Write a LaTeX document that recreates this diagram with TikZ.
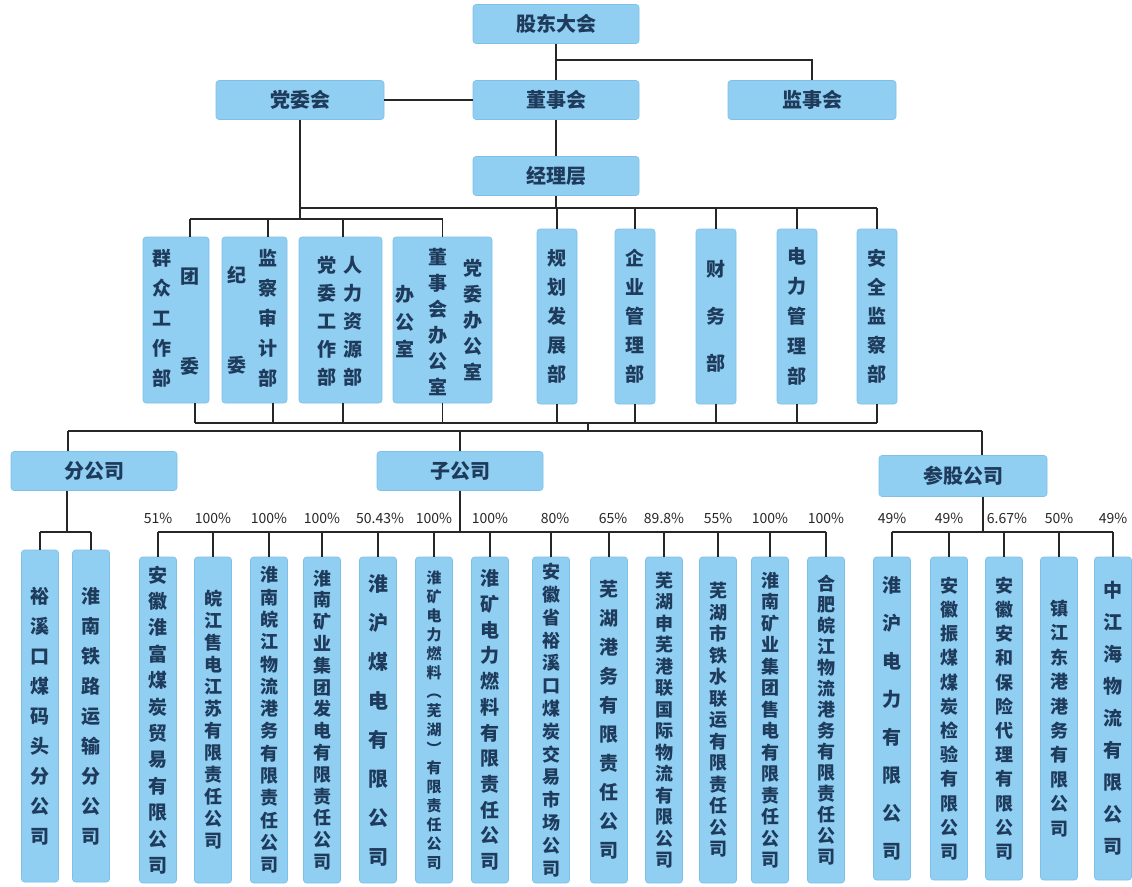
\documentclass[tikz,border=0pt]{standalone}
\usepackage{fontspec}
\newfontfamily\cjk{Noto Sans CJK SC}
\usetikzlibrary{calc}
\definecolor{boxblue}{HTML}{90CFF2}
\definecolor{boxedge}{HTML}{7FC0E8}
\definecolor{txtblue}{HTML}{1F3B5C}
\ExplSyntaxOn
\cs_new_protected:Npn \my_vs:nn #1#2 {
  \vbox:n {
    \skip_set:Nn \baselineskip {#1pt}
    \dim_set:Nn \lineskiplimit {-1000pt}
    \skip_set:Nn \lineskip {0pt}
    \tl_map_inline:nn {#2} { \hbox_to_wd:nn {1.05em} { \hfil ##1 \hfil } }
  }
}
\NewDocumentCommand \vs {mm} { \my_vs:nn {#1}{#2} }
\ExplSyntaxOff
\tikzset{
  bx/.style={fill=boxblue, draw=boxedge, line width=0.6pt, rounded corners=3pt, inner sep=0pt, text=txtblue},
  topbox/.style={bx, minimum width=166pt, minimum height=39pt, font=\cjk\bfseries\fontsize{20}{24}\selectfont},
  deptbox/.style={bx, minimum height=166pt},
  rdept/.style={bx, minimum width=40pt, minimum height=175pt, font=\cjk\bfseries\fontsize{19}{19}\selectfont},
  vtxt/.style={inner sep=0pt, text=txtblue, font=\cjk\bfseries\fontsize{19}{19}\selectfont},
  cobox/.style={bx, minimum width=37pt, minimum height=326pt, font=\cjk\bfseries\fontsize{18}{18}\selectfont},
  conn/.style={line width=1.8pt, draw=black!85},
  pct/.style={inner sep=0pt, text=black!85, font=\cjk\fontsize{14}{14}\selectfont},
}
\begin{document}
\begin{tikzpicture}[x=1pt,y=-1pt]
\useasboundingbox (0,0) rectangle (1132,886);
\fill[white] (0,0) rectangle (1132,886);
% top level
\node[topbox] (gd) at (556,24) {股东大会};
\node[topbox] (dsh) at (556,100) {董事会};
\node[topbox, minimum width=168pt] (dwh) at (300,100) {党委会};
\node[topbox, minimum width=168pt] (jsh) at (812,100) {监事会};
\node[topbox] (jlc) at (556,176) {经理层};
% department boxes
\node[deptbox, minimum width=66pt] (d1) at (176,320) {};
\node[deptbox, minimum width=65pt] (d2) at (254.5,320) {};
\node[deptbox, minimum width=83pt] (d3) at (340.5,320) {};
\node[deptbox, minimum width=99pt] (d4) at (442.5,320) {};
\node[vtxt] (t1a) at (162,318) {\vs{30}{群众工作部}};
\node[vtxt] (t1b) at (190,322) {\vs{90}{团委}};
\node[vtxt] (t2a) at (237,320) {\vs{90}{纪委}};
\node[vtxt] (t2b) at (268,318) {\vs{30}{监察审计部}};
\node[vtxt] (t3a) at (327,321) {\vs{28}{党委工作部}};
\node[vtxt] (t3b) at (353,321) {\vs{28}{人力资源部}};
\node[vtxt] (t4a) at (405,322) {\vs{27.5}{办公室}};
\node[vtxt] (t4b) at (438,322) {\vs{26}{董事会办公室}};
\node[vtxt] (t4c) at (473,320) {\vs{26}{党委办公室}};
\node[rdept] (d5) at (557,316.5) {\vs{29}{规划发展部}};
\node[rdept] (d6) at (635,316.5) {\vs{29}{企业管理部}};
\node[rdept] (d7) at (716,316.5) {\vs{47}{财务部}};
\node[rdept] (d8) at (797,316.5) {\vs{30}{电力管理部}};
\node[rdept] (d9) at (877,316.5) {\vs{29}{安全监察部}};
% second level
\node[topbox, minimum width=166pt] (fgs) at (94,471) {分公司};
\node[topbox, minimum width=166pt] (zgs) at (460,471) {子公司};
\node[topbox, minimum width=168pt, minimum height=41pt] (cg) at (963,476) {参股公司};
% branch companies
\node[cobox, minimum height=332pt, font=\cjk\bfseries\fontsize{19}{19}\selectfont] (f1) at (40,716) {\vs{30}{裕溪口煤码头分公司}};
\node[cobox, minimum height=332pt, font=\cjk\bfseries\fontsize{19}{19}\selectfont] (f2) at (91,716) {\vs{30}{淮南铁路运输分公司}};
% subsidiaries
\node[cobox, font=\cjk\bfseries\fontsize{19}{19}\selectfont] (s1) at (158,720) {\vs{26.4}{安徽淮富煤炭贸易有限公司}};
\node[cobox] (s2) at (213,720) {\vs{22}{皖江售电江苏有限责任公司}};
\node[cobox] (s3) at (269,720) {\vs{22.3}{淮南皖江物流港务有限责任公司}};
\node[cobox] (s4) at (322,720) {\vs{21.8}{淮南矿业集团发电有限责任公司}};
\node[cobox, font=\cjk\bfseries\fontsize{20}{20}\selectfont] (s5) at (378,720) {\vs{39}{淮沪煤电有限公司}};
\node[cobox, font=\cjk\bfseries\fontsize{15}{15}\selectfont] (s6) at (434,720) {\vs{19}{淮矿电力燃料︵芜湖︶有限责任公司}};
\node[cobox, font=\cjk\bfseries\fontsize{19}{19}\selectfont] (s7) at (490,720) {\vs{25.7}{淮矿电力燃料有限责任公司}};
\node[cobox] (s8) at (551,720) {\vs{22.8}{安徽省裕溪口煤炭交易市场公司}};
\node[cobox, font=\cjk\bfseries\fontsize{19}{19}\selectfont] (s9) at (609,720) {\vs{29}{芜湖港务有限责任公司}};
\node[cobox] (s10) at (664,720) {\vs{21.5}{芜湖申芜港联国际物流有限公司}};
\node[cobox] (s11) at (718,720) {\vs{21.5}{芜湖市铁水联运有限责任公司}};
\node[cobox] (s12) at (770,720) {\vs{21.5}{淮南矿业集团售电有限责任公司}};
\node[cobox] (s13) at (826,720) {\vs{21}{合肥皖江物流港务有限责任公司}};
% participations
\node[cobox, minimum height=323pt, font=\cjk\bfseries\fontsize{19}{19}\selectfont] (c1) at (892,718.5) {\vs{38}{淮沪电力有限公司}};
\node[cobox, minimum height=323pt] (c2) at (949,718.5) {\vs{24.2}{安徽振煤煤炭检验有限公司}};
\node[cobox, minimum height=323pt] (c3) at (1004,718.5) {\vs{24.2}{安徽安和保险代理有限公司}};
\node[cobox, minimum height=323pt] (c4) at (1059,718.5) {\vs{24.4}{镇江东港港务有限公司}};
\node[cobox, minimum height=323pt, font=\cjk\bfseries\fontsize{19}{19}\selectfont] (c5) at (1113,718.5) {\vs{32}{中江海物流有限公司}};
% rail levels
\coordinate (yS) at (0,60);
\coordinate (yA) at (0,208);
\coordinate (yB) at (0,219);
\coordinate (yC) at (0,423);
\coordinate (yD) at (0,431);
\coordinate (yE) at (0,532);
\coordinate (yP) at (0,518);
\coordinate (mid) at (588,423);
% connectors top
\draw[conn] (gd.south) -- (dsh.north);
\draw[conn] (gd.south |- yS) -| (jsh.north);
\draw[conn] (dwh.east) -- (dsh.west);
\draw[conn] (dsh.south) -- (jlc.north);
\draw[conn] (dwh.south) -- (dwh.south |- yB);
\draw[conn] (jlc.south) -- (jlc.south |- yA);
\draw[conn] (dwh.south |- yA) -- (d9.north |- yA);
\foreach \d in {d5,d6,d7,d8,d9} \draw[conn] (\d.north |- yA) -- (\d.north);
\draw[conn] ([xshift=14pt]d1.north |- yB) -- (d4.north |- yB);
\draw[conn] ([xshift=14pt]d1.north |- yB) -- ([xshift=14pt]d1.north);
\draw[conn] ([xshift=13.5pt]d2.north |- yB) -- ([xshift=13.5pt]d2.north);
\draw[conn] ([xshift=2.5pt]d3.north |- yB) -- ([xshift=2.5pt]d3.north);
\draw[conn] (d4.north |- yB) -- (d4.north);
% connectors below departments
\draw[conn] ([xshift=19pt]d1.south) -- ([xshift=19pt]d1.south |- yC);
\draw[conn] ([xshift=18.5pt]d2.south) -- ([xshift=18.5pt]d2.south |- yC);
\draw[conn] ([xshift=2.5pt]d3.south) -- ([xshift=2.5pt]d3.south |- yC);
\foreach \d in {d4,d5,d6,d7,d8,d9} \draw[conn] (\d.south) -- (\d.south |- yC);
\draw[conn] ([xshift=19pt]d1.south |- yC) -- (d9.south |- yC);
\draw[conn] (mid) -- (mid |- yD);
\draw[conn] ([xshift=-26pt]fgs.north |- yD) -- ([xshift=19pt]cg.north |- yD);
\draw[conn] ([xshift=-26pt]fgs.north |- yD) -- ([xshift=-26pt]fgs.north);
\draw[conn] (zgs.north |- yD) -- (zgs.north);
\draw[conn] ([xshift=19pt]cg.north |- yD) -- ([xshift=19pt]cg.north);
% connectors to companies
\draw[conn] ([xshift=-27pt]fgs.south) -- ([xshift=-27pt]fgs.south |- yE);
\draw[conn] (f1.north |- yE) -- (f2.north |- yE);
\foreach \c in {f1,f2} \draw[conn] (\c.north |- yE) -- (\c.north);
\draw[conn] (zgs.south) -- (zgs.south |- yE);
\draw[conn] (s1.north |- yE) -- (s13.north |- yE);
\foreach \c in {s1,s2,s3,s4,s5,s6,s7,s8,s9,s10,s11,s12,s13} \draw[conn] (\c.north |- yE) -- (\c.north);
\draw[conn] ([xshift=20pt]cg.south) -- ([xshift=20pt]cg.south |- yE);
\draw[conn] (c1.north |- yE) -- (c5.north |- yE);
\foreach \c in {c1,c2,c3,c4,c5} \draw[conn] (\c.north |- yE) -- (\c.north);
% percentages
\node[pct] (p1) at (s1.north |- yP) {51\%};
\node[pct] (p2) at (s2.north |- yP) {100\%};
\node[pct] (p3) at (s3.north |- yP) {100\%};
\node[pct] (p4) at (s4.north |- yP) {100\%};
\node[pct] (p5) at ([xshift=2pt]s5.north |- yP) {50.43\%};
\node[pct] (p6) at (s6.north |- yP) {100\%};
\node[pct] (p7) at (s7.north |- yP) {100\%};
\node[pct] (p8) at ([xshift=4pt]s8.north |- yP) {80\%};
\node[pct] (p9) at ([xshift=4pt]s9.north |- yP) {65\%};
\node[pct] (p10) at (s10.north |- yP) {89.8\%};
\node[pct] (p11) at (s11.north |- yP) {55\%};
\node[pct] (p12) at (s12.north |- yP) {100\%};
\node[pct] (p13) at (s13.north |- yP) {100\%};
\node[pct] (q1) at (c1.north |- yP) {49\%};
\node[pct] (q2) at (c2.north |- yP) {49\%};
\node[pct] (q3) at ([xshift=3pt]c3.north |- yP) {6.67\%};
\node[pct] (q4) at (c4.north |- yP) {50\%};
\node[pct] (q5) at (c5.north |- yP) {49\%};
\end{tikzpicture}
\end{document}
